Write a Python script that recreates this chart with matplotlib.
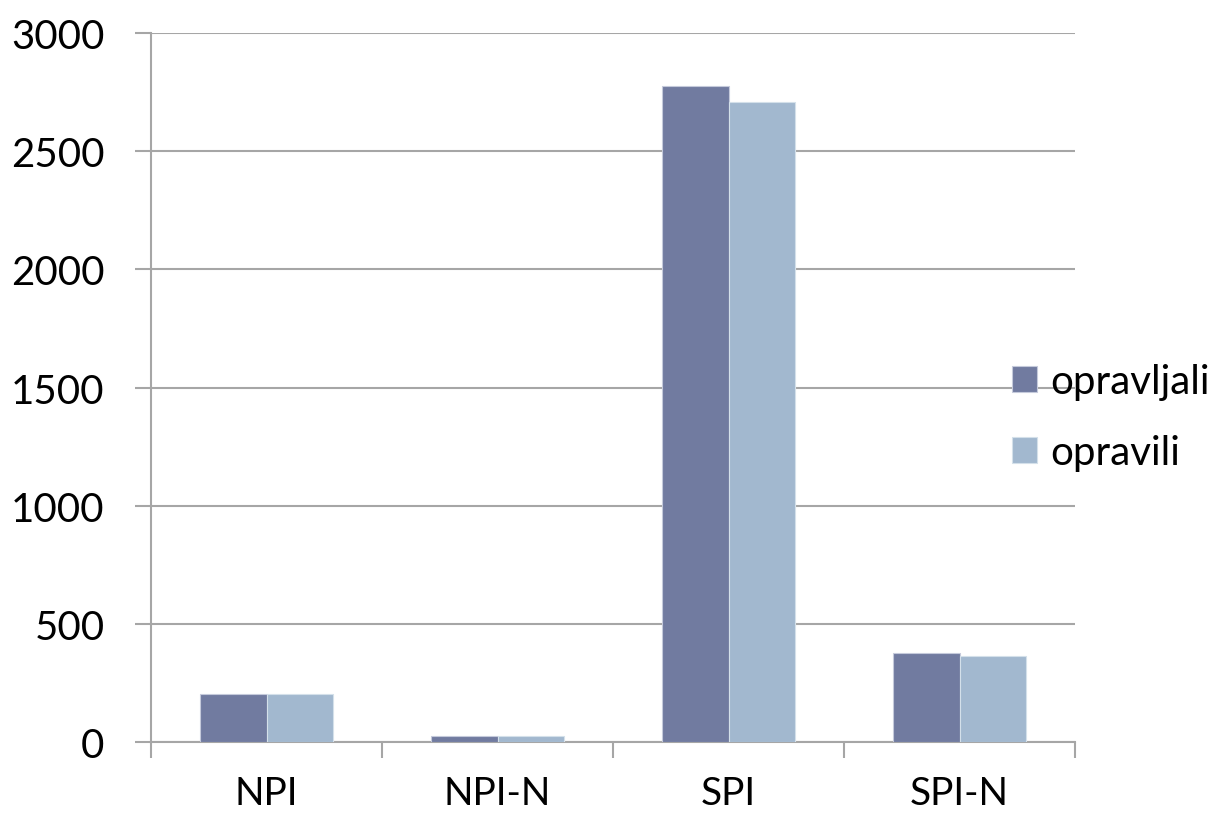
import matplotlib
matplotlib.use("Agg")
import matplotlib.pyplot as plt
import numpy as np

categories = ["NPI", "NPI-N", "SPI", "SPI-N"]
opravljali = [203, 27, 2775, 375]
opravili = [203, 27, 2709, 364]
series_names = ["opravljali", "opravili"]
y_ticks = [0, 500, 1000, 1500, 2000, 2500, 3000]

DARK = "#717ba0"
LIGHT = "#a2b8cf"
GRID = "#a6a6a6"

plt.rcParams["font.family"] = ["Lato", "DejaVu Sans"]

fig = plt.figure(figsize=(12.24, 8.2), dpi=100)
ax = fig.add_axes([151 / 1224, 1 - 743 / 820, (1075 - 151) / 1224, (743 - 34) / 820])

x = np.arange(len(categories))
w = 0.286
b1 = ax.bar(x - w / 2, opravljali, w, color=DARK, edgecolor="#c5cadb", linewidth=0.8,
            label=series_names[0], zorder=3)
b2 = ax.bar(x + w / 2, opravili, w, color=LIGHT, edgecolor="#d4e0ea", linewidth=0.8,
            label=series_names[1], zorder=3)

ax.set_xlim(-0.5, len(categories) - 0.5)
ax.set_ylim(0, 3000)
ax.set_yticks(y_ticks)
ax.set_yticklabels([str(v) for v in y_ticks])
ax.yaxis.grid(True, color=GRID, linewidth=1.5, zorder=0)
ax.set_axisbelow(True)

ax.set_xticks(x)
ax.set_xticklabels(categories)
ax.set_xticks(np.arange(-0.5, len(categories)), minor=True)
ax.tick_params(axis="x", which="major", length=0, pad=24, labelsize=28)
ax.tick_params(axis="x", which="minor", length=11.5, width=1.5, color=GRID)
ax.tick_params(axis="y", length=11.5, width=1.5, color=GRID, pad=22, labelsize=29)

for side in ["top", "right"]:
    ax.spines[side].set_visible(False)
for side in ["left", "bottom"]:
    ax.spines[side].set_color(GRID)
    ax.spines[side].set_linewidth(1.5)

fig.legend(handles=[b1, b2], labels=series_names, loc="center left",
           bbox_to_anchor=(1004 / 1224, 1 - 418 / 820), frameon=False,
           fontsize=29, handlelength=0.62, handleheight=0.62, handletextpad=0.33,
           labelspacing=0.85, borderpad=0.2, borderaxespad=0)

fig.savefig("out.png", dpi=100)
